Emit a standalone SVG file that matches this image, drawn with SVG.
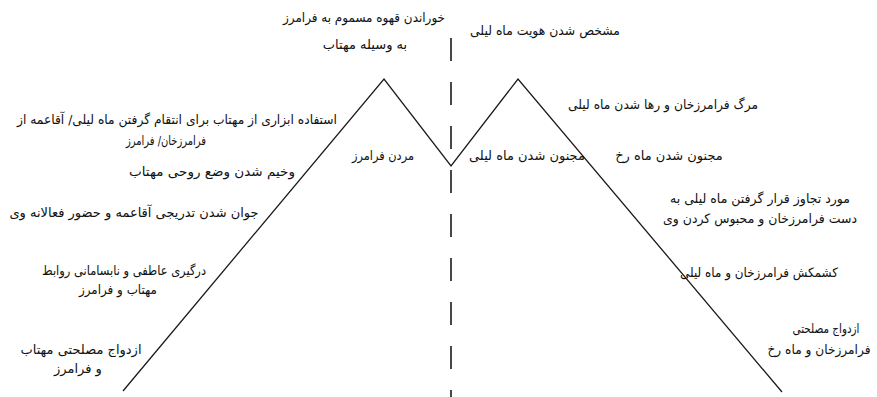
<svg xmlns="http://www.w3.org/2000/svg" width="877" height="397" viewBox="0 0 877 397">
<style>
text{font-family:"DejaVu Sans",sans-serif;font-size:13px;fill:#111;text-anchor:middle;direction:rtl}
.ln{fill:none;stroke:#1a1a1a;stroke-width:1.3}
.dash{fill:none;stroke:#1a1a1a;stroke-width:1.6;stroke-dasharray:23 21}
</style>
<rect width="877" height="397" fill="#fff"/>
<g id="connectors">
<polyline class="ln" points="123,391 384,79 451,166 518,79 782,392"/>
<line class="dash" x1="451" y1="38" x2="451" y2="397"/>
</g>
<g id="top-left"><text x="364" y="22" textLength="162" lengthAdjust="spacingAndGlyphs">خوراندن قهوه مسموم به فرامرز</text><text x="365" y="49">به وسیله مهتاب</text></g>
<g id="top-right"><text x="545" y="35" textLength="150" lengthAdjust="spacingAndGlyphs">مشخص شدن هویت ماه لیلی</text></g>
<g id="l1"><text x="177" y="124" textLength="320" lengthAdjust="spacingAndGlyphs">استفاده ابزاری از مهتاب برای انتقام گرفتن ماه لیلی/ آقاعمه از</text><text x="166" y="145" textLength="80" lengthAdjust="spacingAndGlyphs">فرامرزخان/ فرامرز</text></g>
<g id="l2"><text x="212" y="176" textLength="166" lengthAdjust="spacingAndGlyphs">وخیم شدن وضع روحی مهتاب</text></g>
<g id="l3"><text x="134" y="217">جوان شدن تدریجی آقاعمه و حضور فعالانه وی</text></g>
<g id="l4"><text x="124" y="275" textLength="164" lengthAdjust="spacingAndGlyphs">درگیری عاطفی و نابسامانی روابط</text><text x="118" y="294" textLength="78" lengthAdjust="spacingAndGlyphs">مهتاب و فرامرز</text></g>
<g id="l5"><text x="81" y="354">ازدواج مصلحتی مهتاب</text><text x="78" y="373">و فرامرز</text></g>
<g id="m1"><text x="383" y="160" textLength="62" lengthAdjust="spacingAndGlyphs">مردن فرامرز</text></g>
<g id="m2"><text x="527" y="160">مجنون شدن ماه لیلی</text></g>
<g id="r1"><text x="663" y="109" textLength="190" lengthAdjust="spacingAndGlyphs">مرگ فرامرزخان و رها شدن ماه لیلی</text></g>
<g id="r2"><text x="669" y="160">مجنون شدن ماه رخ</text></g>
<g id="r3"><text x="760" y="203" textLength="180" lengthAdjust="spacingAndGlyphs">مورد تجاوز قرار گرفتن ماه لیلی به</text><text x="760" y="223" textLength="194" lengthAdjust="spacingAndGlyphs">دست فرامرزخان و محبوس کردن وی</text></g>
<g id="r4"><text x="759" y="277" textLength="158" lengthAdjust="spacingAndGlyphs">کشمکش فرامرزخان و ماه لیلی</text></g>
<g id="r5"><text x="826" y="333" textLength="67" lengthAdjust="spacingAndGlyphs">ازدواج مصلحتی</text><text x="819" y="354" textLength="103" lengthAdjust="spacingAndGlyphs">فرامرزخان و ماه رخ</text></g>
</svg>
